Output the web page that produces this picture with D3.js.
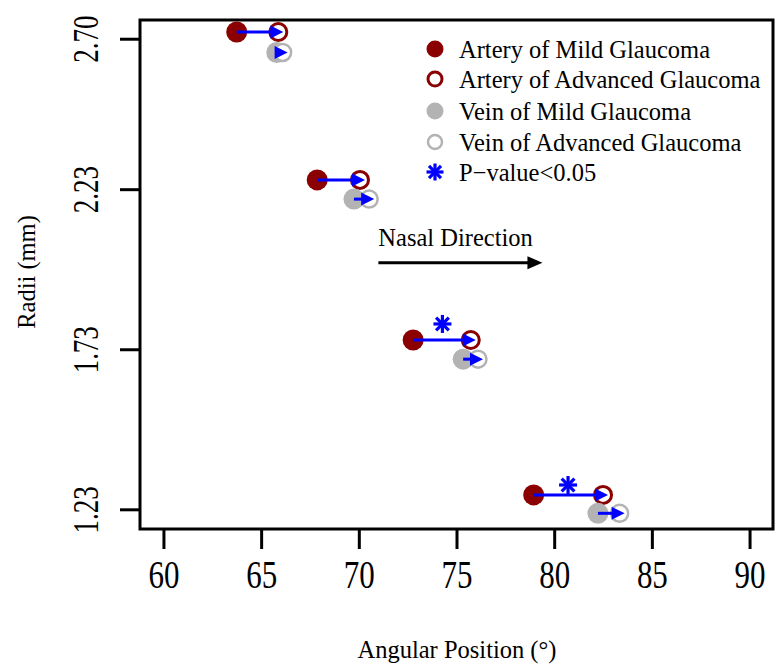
<!DOCTYPE html>
<html><head><meta charset="utf-8">
<script src="https://cdn.jsdelivr.net/npm/d3@7"></script>
<style>body{margin:0;background:#fff}svg{display:block}text{font-family:"Liberation Serif","Times New Roman",serif}</style>
</head><body>
<script>
// ---- data ----
const xTicks = [60, 65, 70, 75, 80, 85, 90];
const yTicks = [1.23, 1.73, 2.23, 2.70];
const arteryMildAngle = [63.75, 67.87, 72.78, 78.95];
const arteryAdvAngle  = [65.88, 70.06, 75.73, 82.50];
const veinMildAngle   = [65.80, 69.75, 75.34, 82.24];
const veinAdvAngle    = [66.10, 70.53, 76.10, 83.35];
const arteryRadius = [2.721, 2.259, 1.759, 1.275];
const veinRadius   = [2.657, 2.199, 1.699, 1.2175];
const starAngle  = [74.28, 80.71];
const starRadius = [1.809, 1.306];
const legendLabels = ["Artery of Mild Glaucoma","Artery of Advanced Glaucoma","Vein of Mild Glaucoma","Vein of Advanced Glaucoma","P\u2212value<0.05"];
const nasal = {label:"Nasal Direction", from:71.0, to:79.4, r:2.00, labelR:2.077};

const W=778,H=666;
const DARKRED="#8b0000", GRAY="#b3b3b3", BLUE="#0000ff";
const svg=d3.select("body").append("svg").attr("width",W).attr("height",H);
const x=d3.scaleLinear().domain([58.8,91.2]).range([140,773]);
const y=d3.scaleLinear().domain([1.1685,2.7585]).range([529,20]);

// box
svg.append("rect").attr("x",140).attr("y",20).attr("width",633).attr("height",509)
  .attr("fill","none").attr("stroke","#000").attr("stroke-width",3);

// axes
const xAxis=svg.append("g").attr("transform","translate(0,529)")
  .call(d3.axisBottom(x).tickValues(xTicks).tickSize(20).tickFormat(d3.format("d")));
const yAxis=svg.append("g").attr("transform","translate(140,0)")
  .call(d3.axisLeft(y).tickValues(yTicks).tickSize(20).tickFormat(d3.format(".2f")));
[xAxis,yAxis].forEach(g=>{g.select(".domain").remove();g.selectAll("line").attr("stroke","#000").attr("stroke-width",3);});
xAxis.selectAll("text").attr("font-size",31).attr("fill","#000").attr("font-family","Liberation Serif")
  .attr("y",0).attr("dy",null).attr("dominant-baseline","central")
  .attr("transform","translate(0,46) scale(1,1.3)");
yAxis.selectAll("text").attr("font-size",27).attr("fill","#000").attr("font-family","Liberation Serif")
  .attr("text-anchor","middle").attr("x",0).attr("dy",null).attr("dominant-baseline","central")
  .attr("transform","translate(-54,0) rotate(-90) scale(1,1.3)");

// axis titles
svg.append("text").attr("x",457).attr("y",658).attr("text-anchor","middle").attr("font-size",24.5).text("Angular Position (\u00b0)");
svg.append("text").attr("transform","translate(35,272) rotate(-90)").attr("text-anchor","middle").attr("font-size",24.5).text("Radii (mm)");

// points
const idx=d3.range(arteryMildAngle.length);
const pts=svg.append("g");
pts.selectAll(".am").data(idx).join("circle").attr("cx",i=>x(arteryMildAngle[i])).attr("cy",i=>y(arteryRadius[i])).attr("r",10.5).attr("fill",DARKRED);
pts.selectAll(".aa").data(idx).join("circle").attr("cx",i=>x(arteryAdvAngle[i])).attr("cy",i=>y(arteryRadius[i])).attr("r",8.5).attr("fill","#fff").attr("stroke",DARKRED).attr("stroke-width",3);
pts.selectAll(".vm").data(idx).join("circle").attr("cx",i=>x(veinMildAngle[i])).attr("cy",i=>y(veinRadius[i])).attr("r",10.5).attr("fill",GRAY);
pts.selectAll(".va").data(idx).join("circle").attr("cx",i=>x(veinAdvAngle[i])).attr("cy",i=>y(veinRadius[i])).attr("r",8.5).attr("fill","#fff").attr("stroke",GRAY).attr("stroke-width",2.5);

// arrows
function arrow(g,x0,y0,x1,y1,color,lw,hl,hw){
  g.append("line").attr("x1",x0).attr("y1",y0).attr("x2",x1-hl+1).attr("y2",y1).attr("stroke",color).attr("stroke-width",lw);
  g.append("path").attr("d",`M${x1},${y1}L${x1-hl},${y1-hw/2}L${x1-hl},${y1+hw/2}Z`).attr("fill",color);
}
const ar=svg.append("g");
idx.forEach(i=>{
  arrow(ar,x(arteryMildAngle[i]),y(arteryRadius[i]),x(arteryAdvAngle[i])+5,y(arteryRadius[i]),BLUE,3,13,13);
  arrow(ar,x(veinMildAngle[i]),y(veinRadius[i]),x(veinAdvAngle[i])+5,y(veinRadius[i]),BLUE,3,13,13);
});

// stars
function star(g,cx,cy,r,color,lw){
  for(let k=0;k<4;k++){const a=k*Math.PI/4;
    g.append("line").attr("x1",cx-r*Math.cos(a)).attr("y1",cy-r*Math.sin(a)).attr("x2",cx+r*Math.cos(a)).attr("y2",cy+r*Math.sin(a)).attr("stroke",color).attr("stroke-width",lw);}
}
starAngle.forEach((a,i)=>star(svg,x(a),y(starRadius[i]),9,BLUE,3.2));

// nasal direction
svg.append("text").attr("x",x(nasal.from)).attr("y",y(nasal.labelR)+8).attr("font-size",24.5).text(nasal.label);
arrow(svg,x(nasal.from),y(nasal.r),x(nasal.to),y(nasal.r),"#000",3,15,13);

// legend
const lg=svg.append("g");
const ly=[49,79,111,142,172], lx=435, tx=459;
lg.append("circle").attr("cx",lx).attr("cy",ly[0]).attr("r",8.5).attr("fill",DARKRED);
lg.append("circle").attr("cx",lx).attr("cy",ly[1]).attr("r",7).attr("fill","#fff").attr("stroke",DARKRED).attr("stroke-width",3);
lg.append("circle").attr("cx",lx).attr("cy",ly[2]).attr("r",8.5).attr("fill",GRAY);
lg.append("circle").attr("cx",lx).attr("cy",ly[3]).attr("r",7).attr("fill","#fff").attr("stroke",GRAY).attr("stroke-width",2.5);
star(lg,lx,ly[4],8.5,BLUE,3.2);
legendLabels.forEach((t,i)=>lg.append("text").attr("x",tx).attr("y",ly[i]).attr("dy","0.35em").attr("font-size",24.5).text(t));
</script>
</body></html>
